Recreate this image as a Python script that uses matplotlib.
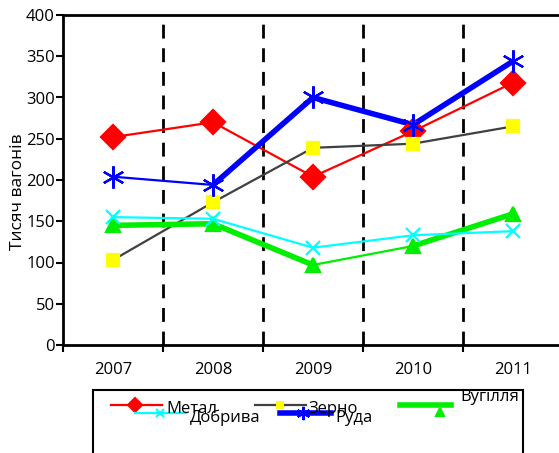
import matplotlib
matplotlib.use("Agg")
import matplotlib.pyplot as plt
from matplotlib.lines import Line2D
from matplotlib.patches import Rectangle

plt.rcParams['font.family'] = ['Open Sans', 'DejaVu Sans']

years = ['2007', '2008', '2009', '2010', '2011']
metal = [252, 270, 204, 259, 318]
zerno = [103, 173, 239, 244, 265]
vugillya = [145, 147, 97, 120, 159]
dobryva = [155, 153, 118, 133, 138]
ruda = [204, 194, 300, 267, 344]

W, H = 559, 453
fig = plt.figure(figsize=(W / 100, H / 100), dpi=100)
ax = fig.add_axes([63 / W, 108 / H, 500 / W, 330 / H])

thin, thick = 1.6, 4.0
# name, values, line colour, marker, marker colour, marker size, widths per segment
series = [
    ('Метал', metal, 'red', 'D', 'red', 12, [thin] * 4),
    ('Зерно', zerno, '#404040', 's', 'yellow', 8, [thin] * 4),
    ('Вугілля', vugillya, '#00ee00', '^', '#00ee00', 10, [thick, thick, thin, thick]),
    ('Добрива', dobryva, 'cyan', 'x', 'cyan', 10, [thin] * 4),
    ('Руда', ruda, 'blue', (6, 2, 0), 'blue', 16, [thin, thick, thick, thick]),
]

x = list(range(len(years)))
for name, vals, col, mk, mcol, ms, widths in series:
    for i in range(len(x) - 1):
        ax.plot(x[i:i + 2], vals[i:i + 2], color=col, lw=widths[i],
                solid_capstyle='round', zorder=3)
    ax.plot(x, vals, ls='none', marker=mk, ms=ms, color=mcol,
            markeredgecolor=mcol, markeredgewidth=1.6, zorder=4)

for b in [0.5, 1.5, 2.5, 3.5]:
    ax.axvline(b, color='black', ls=(0, (5, 3.5)), lw=2, zorder=1)

ax.set_xlim(-0.5, 4.5)
ax.set_ylim(0, 400)
ax.set_yticks(range(0, 401, 50))
ax.set_xticks([-0.5, 0.5, 1.5, 2.5, 3.5, 4.5])
ax.set_xticklabels([])
ax.set_xticks(x, minor=True)
ax.set_xticklabels(years, minor=True)
ax.tick_params(axis='x', which='minor', length=0, pad=12, labelsize=12)
ax.tick_params(axis='x', which='major', length=5, width=1.5, direction='out')
ax.tick_params(axis='y', length=5, width=1.5, direction='out', labelsize=12, pad=1)
for s in ax.spines.values():
    s.set_linewidth(2)
ax.spines['right'].set_visible(False)
ax.set_ylabel('Тисяч вагонів', fontsize=12.5)
ax.yaxis.set_label_coords(-0.074, 0.465)


def fx(px):
    return px / W


def fy(py):
    return 1 - py / H


# legend box, partly cut off at the bottom like the source
fig.add_artist(Rectangle((fx(93), fy(470)), fx(430), fy(390) - fy(470),
                         transform=fig.transFigure, fill=False, lw=1.5,
                         edgecolor='black'))
leg_layout = {
    'Метал': (111, 405, 135, 405, 166, 409),
    'Добрива': (135, 413, 160, 413, 190, 418),
    'Зерно': (255, 405, 280, 405, 308, 409),
    'Руда': (280, 413, 303, 413, 335, 418),
    'Вугілля': (400, 405, 440, 412, 460, 397),
}
for name, vals, col, mk, mcol, ms, widths in series:
    x0, ly, mx, my, tx, ty = leg_layout[name]
    fig.add_artist(Line2D([fx(x0), fx(x0 + 51)], [fy(ly), fy(ly)],
                          transform=fig.transFigure, color=col,
                          lw=max(widths)))
    fig.add_artist(Line2D([fx(mx)], [fy(my)], transform=fig.transFigure,
                          ls='none', marker=mk, ms=ms * 0.6, color=mcol,
                          markeredgecolor=mcol, markeredgewidth=1.5))
    fig.text(fx(tx), fy(ty), name, fontsize=12, va='center', ha='left')

fig.savefig('out.png', dpi=100)
